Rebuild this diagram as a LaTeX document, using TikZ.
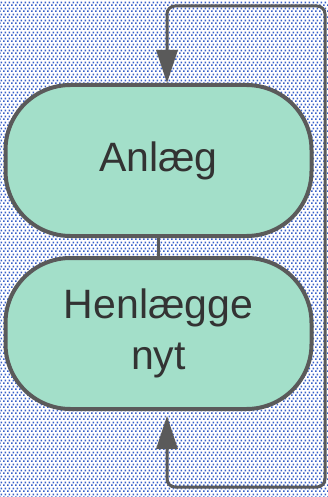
\documentclass[tikz,border=0pt]{standalone}
\usepackage{fontspec}
\setmainfont{Liberation Sans}
\usetikzlibrary{arrows.meta,patterns.meta}
\definecolor{nodefill}{RGB}{163,223,201}
\definecolor{edgegray}{RGB}{90,90,90}
\definecolor{txtgray}{RGB}{51,51,51}
\definecolor{dotblue}{RGB}{55,95,200}
\pgfdeclarepattern{
  name=bgdots,
  type=uncolored,
  bottom left={\pgfpoint{0pt}{0pt}},
  top right={\pgfpoint{4pt}{6pt}},
  tile size={\pgfpoint{4pt}{6pt}},
  code={
    \pgfpathrectangle{\pgfpoint{0pt}{0pt}}{\pgfpoint{2pt}{2pt}}
    \pgfpathrectangle{\pgfpoint{2pt}{3pt}}{\pgfpoint{2pt}{2pt}}
    \pgfusepath{fill}
  }
}
\tikzset{
  procbox/.style={draw=edgegray, line width=4pt, fill=nodefill,
    rounded corners=65pt, minimum width=306pt, inner sep=0pt,
    text=txtgray, align=center, font=\fontsize{41}{51}\selectfont},
  link/.style={draw=edgegray, line width=3pt},
  loopline/.style={draw=edgegray, line width=3pt, rounded corners=8pt,
    {Triangle[length=33pt,width=21pt]}-{Triangle[length=33pt,width=21pt]}}
}
\begin{document}
\begin{tikzpicture}[x=1pt,y=-1pt]
  \fill[white] (0,0) rectangle (328,497);
  \fill[pattern=bgdots, pattern color=dotblue] (0,0) rectangle (328,497);
  \useasboundingbox (0,0) rectangle (328,497);
  \node[procbox, minimum height=151pt] (top) at (158.5,160.5) {Anlæg};
  \node[procbox, minimum height=151pt] (bot) at (158.5,333.5) {Henlægge\\nyt};
  \draw[link] (top.south) -- (bot.north);
  \coordinate (cBR) at (325,487);
  \coordinate (cTR) at (325,6);
  \draw[loopline, shorten <=5pt] ([xshift=8.5pt]bot.south) |- (cBR) -- (cTR) -| ([xshift=8.5pt]top.north);
\end{tikzpicture}
\end{document}
